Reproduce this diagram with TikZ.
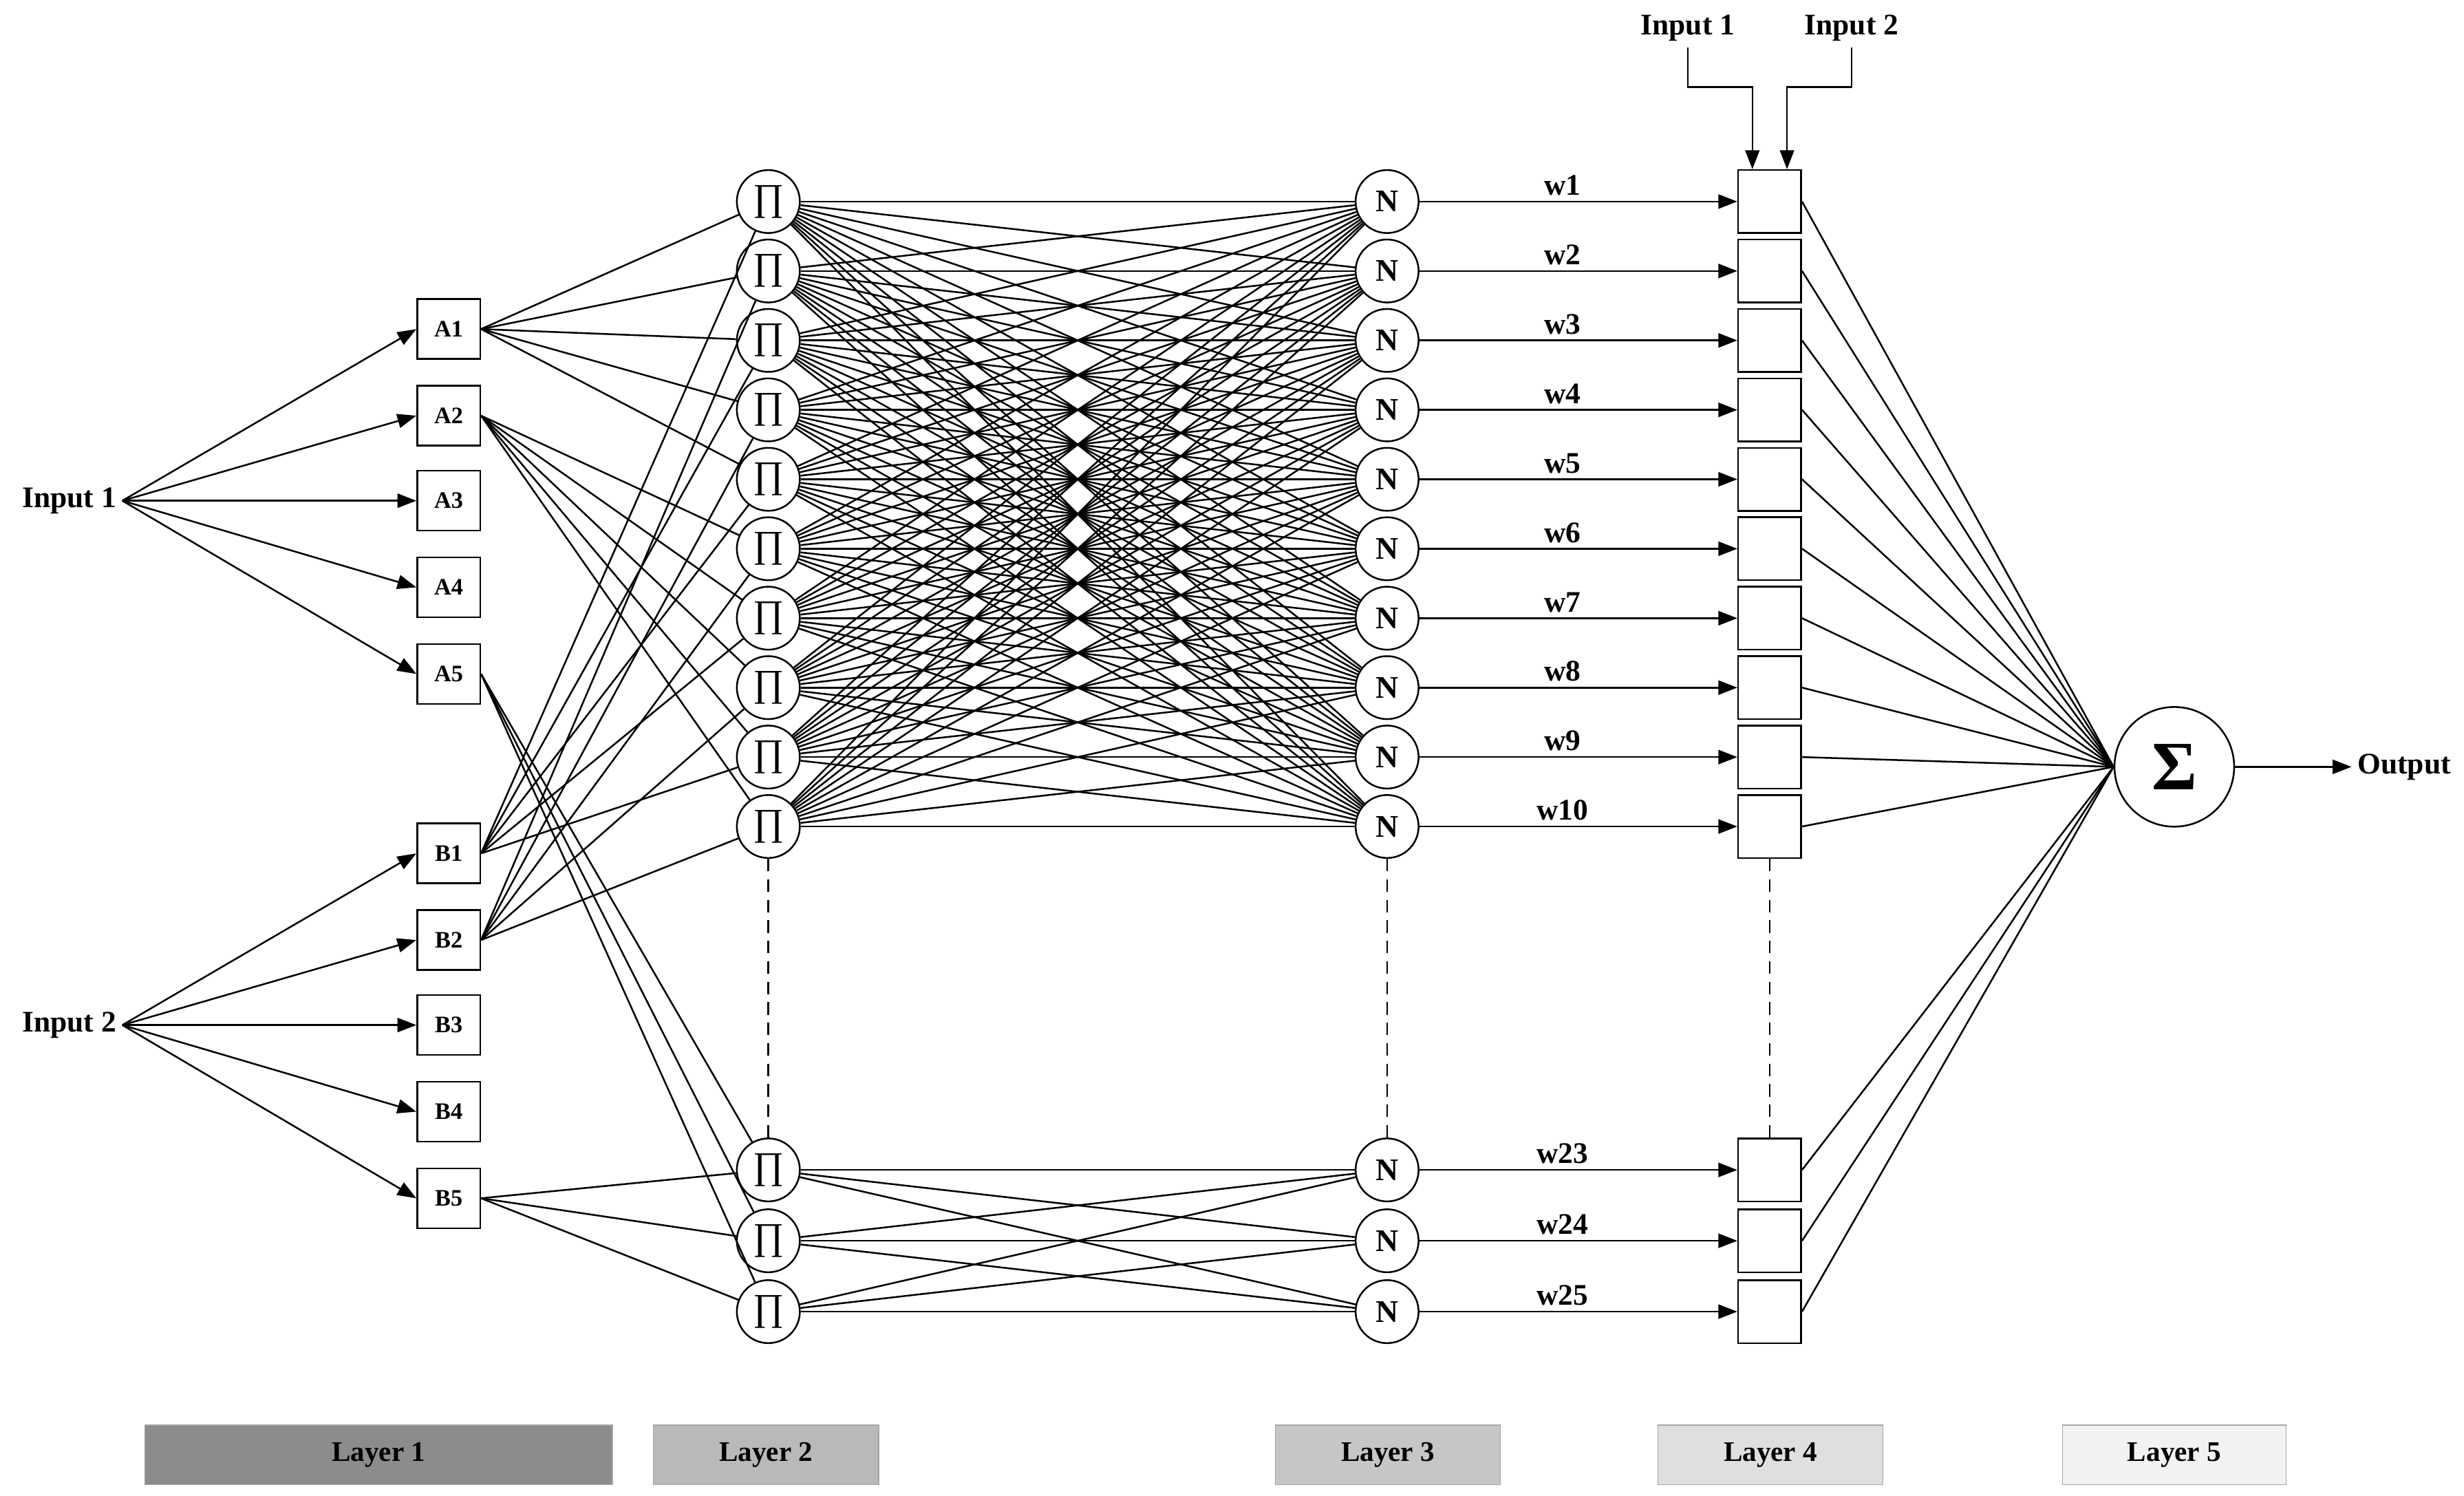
\documentclass[tikz,border=0pt]{standalone}
\usepackage{fontspec}
\setmainfont{Liberation Serif}
\usetikzlibrary{arrows.meta}
\begin{document}
\begin{tikzpicture}[x=1pt,y=-1pt, line width=1.1pt,
  lbl/.style={font=\fontsize{19}{21}\selectfont\bfseries},
  mf/.style={draw, minimum width=40pt, minimum height=38pt, inner sep=0pt, font=\fontsize{15}{17}\selectfont\bfseries},
  pnode/.style={draw, circle, minimum size=40pt, inner sep=0pt, font=\fontsize{24}{26}\selectfont},
  sq/.style={draw, minimum size=40pt, inner sep=0pt},
  arr/.style={-{Triangle[length=12pt,width=9pt]}},
  dsh/.style={dash pattern=on 8pt off 5pt},
  bar/.style={draw=gray!70, line width=0.6pt, minimum width=#1, minimum height=38pt, inner sep=0pt, font=\fontsize{18}{20}\selectfont\bfseries}]
\useasboundingbox (0,0) rectangle (1565,950);
% inputs
\node [lbl] (I1) at (44,318) {Input 1};
\node [lbl] (I2) at (44,651) {Input 2};
\foreach \i/\y in {1/209,2/264,3/318,4/373,5/428} {
  \node [mf] (A\i) at (285,\y) {A\i};
  \draw [arr] (I1.east) -- (A\i.west);
}
\foreach \i/\y in {1/542,2/597,3/651,4/706,5/761} {
  \node [mf] (B\i) at (285,\y) {B\i};
  \draw [arr] (I2.east) -- (B\i.west);
}
% rule, normalisation and consequent layers
\foreach \k in {1,...,10} {
  \pgfmathsetmacro{\y}{128+(\k-1)*44.1}
  \node [pnode] (P\k) at (488,\y) {∏};
  \node [pnode, font=\fontsize{20}{22}\selectfont\bfseries] (N\k) at (881,\y) {N};
  \node [sq] (S\k) at (1124,\y) {};
  \draw [arr] (N\k) -- node [lbl, above, pos=0.45] {w\k} (S\k);
}
\foreach \k/\y in {23/743,24/788,25/833} {
  \node [pnode] (P\k) at (488,\y) {∏};
  \node [pnode, font=\fontsize{20}{22}\selectfont\bfseries] (N\k) at (881,\y) {N};
  \node [sq] (S\k) at (1124,\y) {};
  \draw [arr] (N\k) -- node [lbl, above, pos=0.45] {w\k} (S\k);
}
% membership to rules
\foreach \k in {1,...,5} \draw (A1.east) -- (P\k);
\foreach \k in {6,...,10} \draw (A2.east) -- (P\k);
\foreach \k in {1,3,5,7,9} \draw (B1.east) -- (P\k);
\foreach \k in {2,4,6,8,10} \draw (B2.east) -- (P\k);
\foreach \k in {23,24,25} {
  \draw (A5.east) -- (P\k);
  \draw (B5.east) -- (P\k);
}
% rules to normalisation
\foreach \a in {1,...,10}
  \foreach \b in {1,...,10}
    \draw (P\a) -- (N\b);
\foreach \a in {23,24,25}
  \foreach \b in {23,24,25}
    \draw (P\a) -- (N\b);
% dashed continuation
\draw [dsh] (P10) -- (P23);
\draw [dsh] (N10) -- (N23);
\draw [dsh] (S10) -- (S23);
% output
\node [draw, circle, minimum size=76pt, inner sep=0pt, font=\fontsize{44}{46}\selectfont\bfseries] (Sig) at (1381,487) {Σ};
\foreach \k in {1,...,10,23,24,25} \draw (S\k.east) -- (Sig.west);
\node [lbl] (Out) at (1527,487) {Output};
\draw [arr] (Sig) -- (Out);
% top inputs
\node [lbl] (T1) at (1072,18) {Input 1};
\node [lbl] (T2) at (1176,18) {Input 2};
\coordinate (E1) at ([xshift=-11pt]S1.north);
\coordinate (E2) at ([xshift=11pt]S1.north);
\draw [arr] (T1.south) -- ++(0,25) -| (E1);
\draw [arr] (T2.south) -- ++(0,25) -| (E2);
% layers
\node [bar=297pt, fill=gray!90] (L1) at (240.5,924) {Layer 1};
\node [bar=143pt, fill=gray!55] (L2) at (486.5,924) {Layer 2};
\node [bar=143pt, fill=gray!45] (L3) at (881.5,924) {Layer 3};
\node [bar=143pt, fill=gray!25] (L4) at (1124.5,924) {Layer 4};
\node [bar=142pt, fill=gray!10] (L5) at (1381,924) {Layer 5};
\end{tikzpicture}
\end{document}
